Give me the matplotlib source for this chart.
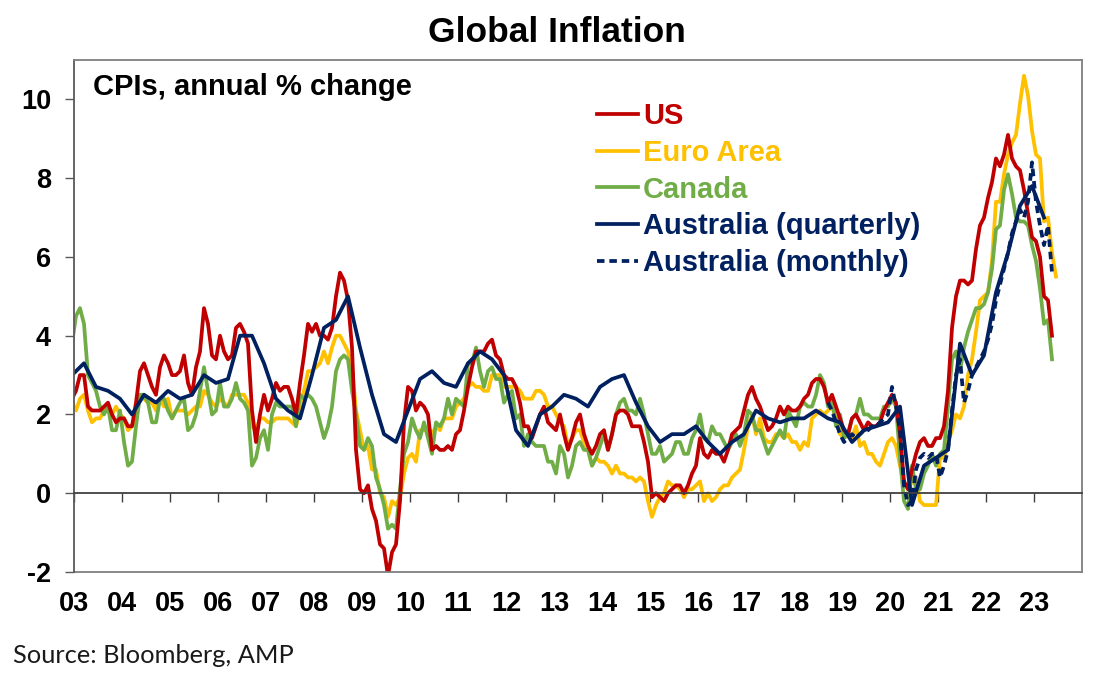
"""Global Inflation - CPIs, annual % change."""
import numpy as np
import matplotlib
matplotlib.use("Agg")
import matplotlib.pyplot as plt
from matplotlib.lines import Line2D

RED = "#C00000"
YELLOW = "#FFC000"
GREEN = "#70AD47"
NAVY = "#002060"
FRAME = "#7f7f7f"

# monthly annual % change, Dec 2002 .. latest month
us = [2.4,
      2.6, 3.0, 3.0, 2.2, 2.1, 2.1, 2.1, 2.2, 2.3, 2.0, 1.8, 1.9,
      1.9, 1.7, 1.7, 2.3, 3.1, 3.3, 3.0, 2.7, 2.5, 3.2, 3.5, 3.3,
      3.0, 3.0, 3.1, 3.5, 2.8, 2.5, 3.2, 3.6, 4.7, 4.3, 3.5, 3.4,
      4.0, 3.6, 3.4, 3.5, 4.2, 4.3, 4.1, 3.8, 2.1, 1.3, 2.0, 2.5,
      2.1, 2.4, 2.8, 2.6, 2.7, 2.7, 2.4, 2.0, 2.8, 3.5, 4.3, 4.1,
      4.3, 4.0, 4.0, 3.9, 4.2, 5.0, 5.6, 5.4, 4.9, 3.7, 1.1, 0.1,
      0.0, 0.2, -0.4, -0.7, -1.3, -1.4, -2.1, -1.5, -1.3, -0.2, 1.8, 2.7,
      2.6, 2.1, 2.3, 2.2, 2.0, 1.1, 1.2, 1.1, 1.1, 1.2, 1.1, 1.5,
      1.6, 2.1, 2.7, 3.2, 3.6, 3.6, 3.6, 3.8, 3.9, 3.5, 3.4, 3.0,
      2.9, 2.9, 2.7, 2.3, 1.7, 1.7, 1.4, 1.7, 2.0, 2.2, 1.8, 1.7,
      1.6, 2.0, 1.5, 1.1, 1.4, 1.8, 2.0, 1.5, 1.2, 1.0, 1.2, 1.5,
      1.6, 1.1, 1.5, 2.0, 2.1, 2.1, 2.0, 1.7, 1.7, 1.7, 1.3, 0.8,
      -0.1, 0.0, -0.1, -0.2, 0.0, 0.1, 0.2, 0.2, 0.0, 0.2, 0.5, 0.7,
      1.4, 1.0, 0.9, 1.1, 1.0, 1.0, 0.8, 1.1, 1.5, 1.6, 1.7, 2.1,
      2.5, 2.7, 2.4, 2.2, 1.9, 1.6, 1.7, 1.9, 2.2, 2.0, 2.2, 2.1,
      2.1, 2.2, 2.4, 2.5, 2.8, 2.9, 2.9, 2.7, 2.3, 2.5, 2.2, 1.9,
      1.6, 1.5, 1.9, 2.0, 1.8, 1.6, 1.8, 1.7, 1.7, 1.8, 2.1, 2.3,
      2.5, 2.3, 1.5, 0.3, 0.1, 0.6, 1.0, 1.3, 1.4, 1.2, 1.2, 1.4,
      1.4, 1.7, 2.6, 4.2, 5.0, 5.4, 5.4, 5.3, 5.4, 6.2, 6.8, 7.0,
      7.5, 7.9, 8.5, 8.3, 8.6, 9.1, 8.5, 8.3, 8.2, 7.7, 7.1, 6.5,
      6.4, 6.0, 5.0, 4.9, 4.0]

euro = [2.3,
        2.1, 2.4, 2.5, 2.1, 1.8, 1.9, 1.9, 2.1, 2.2, 2.0, 2.2, 2.0,
        1.9, 1.6, 1.7, 2.0, 2.5, 2.4, 2.3, 2.3, 2.1, 2.4, 2.2, 2.4,
        1.9, 2.1, 2.1, 2.1, 2.0, 2.1, 2.2, 2.2, 2.6, 2.5, 2.3, 2.2,
        2.4, 2.3, 2.2, 2.5, 2.5, 2.5, 2.5, 2.3, 1.7, 1.6, 1.9, 1.9,
        1.8, 1.8, 1.9, 1.9, 1.9, 1.9, 1.8, 1.7, 2.1, 2.6, 3.1, 3.1,
        3.2, 3.3, 3.6, 3.3, 3.7, 4.0, 4.0, 3.8, 3.6, 3.2, 2.1, 1.6,
        1.1, 1.2, 0.6, 0.6, 0.0, -0.1, -0.6, -0.2, -0.3, -0.1, 0.5, 0.9,
        1.0, 0.8, 1.6, 1.6, 1.7, 1.5, 1.7, 1.6, 1.9, 1.9, 1.9, 2.2,
        2.3, 2.4, 2.7, 2.8, 2.7, 2.7, 2.6, 2.6, 3.0, 3.0, 3.0, 2.7,
        2.7, 2.7, 2.7, 2.6, 2.4, 2.4, 2.4, 2.6, 2.6, 2.5, 2.2, 2.2,
        2.0, 1.8, 1.7, 1.2, 1.4, 1.6, 1.6, 1.3, 1.1, 0.7, 0.9, 0.8,
        0.8, 0.7, 0.5, 0.7, 0.5, 0.5, 0.4, 0.4, 0.3, 0.4, 0.3, -0.2,
        -0.6, -0.3, -0.1, 0.0, 0.3, 0.2, 0.2, 0.1, -0.1, 0.1, 0.1, 0.2,
        0.3, -0.2, 0.0, -0.2, -0.1, 0.1, 0.2, 0.2, 0.4, 0.5, 0.6, 1.1,
        1.7, 2.0, 1.5, 1.9, 1.4, 1.3, 1.3, 1.5, 1.5, 1.4, 1.5, 1.3,
        1.3, 1.1, 1.3, 1.2, 1.9, 2.0, 2.1, 2.0, 2.1, 2.2, 1.9, 1.5,
        1.4, 1.5, 1.4, 1.7, 1.2, 1.3, 1.0, 1.0, 0.8, 0.7, 1.0, 1.3,
        1.4, 1.2, 0.7, 0.3, 0.1, 0.3, 0.4, -0.2, -0.3, -0.3, -0.3, -0.3,
        0.9, 0.9, 1.3, 1.6, 2.0, 1.9, 2.2, 3.0, 3.4, 4.1, 4.9, 5.0,
        5.1, 5.9, 7.4, 7.4, 8.1, 8.6, 8.9, 9.1, 9.9, 10.6, 10.1, 9.2,
        8.6, 8.5, 6.9, 7.0, 6.1, 5.5]

canada = [3.8,
          4.5, 4.7, 4.3, 3.0, 2.8, 2.6, 2.2, 2.0, 2.2, 1.6, 1.6, 2.1,
          1.3, 0.7, 0.8, 1.7, 2.5, 2.5, 2.3, 1.8, 1.8, 2.4, 2.4, 2.1,
          1.9, 2.1, 2.3, 2.4, 1.6, 1.7, 2.0, 2.6, 3.2, 2.6, 2.0, 2.1,
          2.8, 2.2, 2.2, 2.4, 2.8, 2.4, 2.3, 2.1, 0.7, 0.9, 1.4, 1.6,
          1.1, 2.0, 2.3, 2.2, 2.2, 2.2, 2.2, 1.7, 2.5, 2.4, 2.5, 2.4,
          2.2, 1.8, 1.4, 1.7, 2.2, 3.1, 3.4, 3.5, 3.4, 2.6, 2.0, 1.2,
          1.1, 1.4, 1.2, 0.4, 0.1, -0.3, -0.9, -0.8, -0.9, 0.1, 1.0, 1.3,
          1.9, 1.6, 1.4, 1.8, 1.4, 1.0, 1.8, 1.7, 1.9, 2.4, 2.0, 2.4,
          2.3, 2.2, 3.3, 3.3, 3.7, 3.1, 2.7, 3.1, 3.2, 2.9, 2.9, 2.3,
          2.5, 2.6, 1.9, 2.0, 1.2, 1.5, 1.3, 1.2, 1.2, 1.2, 0.8, 0.8,
          0.5, 1.2, 1.0, 0.4, 0.7, 1.2, 1.3, 1.1, 1.1, 0.7, 0.9, 1.2,
          1.5, 1.1, 1.5, 2.0, 2.3, 2.4, 2.1, 2.1, 2.0, 2.4, 2.0, 1.5,
          1.0, 1.0, 1.2, 0.8, 0.9, 1.0, 1.3, 1.3, 1.0, 1.0, 1.4, 1.6,
          2.0, 1.4, 1.3, 1.7, 1.5, 1.5, 1.3, 1.1, 1.3, 1.5, 1.2, 1.5,
          2.1, 2.0, 1.6, 1.6, 1.3, 1.0, 1.2, 1.4, 1.6, 1.4, 2.1, 1.9,
          1.7, 2.2, 2.3, 2.2, 2.2, 2.5, 3.0, 2.8, 2.2, 2.4, 1.7, 2.0,
          1.4, 1.5, 1.9, 2.0, 2.4, 2.0, 2.0, 1.9, 1.9, 1.9, 2.2, 2.2,
          2.4, 2.2, 0.9, -0.2, -0.4, 0.7, 0.1, 0.1, 0.5, 0.7, 1.0, 0.7,
          1.0, 1.1, 2.2, 3.4, 3.6, 3.1, 3.7, 4.1, 4.4, 4.7, 4.7, 4.8,
          5.1, 5.7, 6.7, 6.8, 7.7, 8.1, 7.6, 7.0, 6.9, 6.9, 6.8, 6.3,
          5.9, 5.2, 4.3, 4.4, 3.4]

# quarterly, Dec 2002 .. Mar 2023 (quarter-end months)
aus_q = [3.0,
         3.3, 2.7, 2.6, 2.4,
         2.0, 2.5, 2.3, 2.6,
         2.4, 2.5, 3.0, 2.8,
         2.9, 4.0, 4.0, 3.3,
         2.4, 2.1, 1.9, 3.0,
         4.2, 4.4, 5.0, 3.7,
         2.5, 1.5, 1.3, 2.1,
         2.9, 3.1, 2.8, 2.7,
         3.3, 3.6, 3.4, 3.0,
         1.6, 1.2, 2.0, 2.2,
         2.5, 2.4, 2.2, 2.7,
         2.9, 3.0, 2.3, 1.7,
         1.3, 1.5, 1.5, 1.7,
         1.3, 1.0, 1.3, 1.5,
         2.1, 1.9, 1.8, 1.9,
         1.9, 2.1, 1.9, 1.8,
         1.3, 1.6, 1.7, 1.8,
         2.2, -0.3, 0.7, 0.9,
         1.1, 3.8, 3.0, 3.5,
         5.1, 6.1, 7.3, 7.8,
         7.0]

# monthly indicator, Sep 2018 .. May 2023
aus_m = [2.3, 2.1, 1.8, 1.5,
         1.3, 1.4, 1.5, 1.4, 1.5, 1.6, 1.6, 1.7, 1.7, 1.8, 1.9, 2.0,
         2.7, 2.2, 1.6, 0.2, -0.3, -0.2, 0.6, 0.9, 1.0, 0.9, 1.0, 1.0,
         0.4, 0.7, 1.1, 2.1, 3.0, 3.4, 2.3, 2.6, 3.0, 3.2, 3.4, 3.6,
         3.9, 4.3, 4.9, 5.3, 5.7, 6.1, 6.6, 6.9, 7.2, 7.0, 7.4, 8.4,
         7.4, 6.8, 6.3, 6.8, 5.6]

years = list(range(2003, 2024))
year_labels = [f"{y % 100:02d}" for y in years]


def month_x(first_month, n, step=1):
    # first_month counted from Jan 2003 = 0, points drawn mid-month
    return 2003 + (first_month + step * np.arange(n) + 0.5) / 12


plt.rcParams["font.family"] = ["Liberation Sans", "DejaVu Sans"]
plt.rcParams["axes.unicode_minus"] = False

fig = plt.figure(figsize=(11.05, 6.91), dpi=100)
ax = fig.add_axes([74 / 1105, 1 - 572 / 691, 1008 / 1105, 512 / 691])

lw = 2.7
ax.plot(month_x(-1, len(euro)), euro, color=YELLOW, lw=lw)
ax.plot(month_x(-1, len(canada)), canada, color=GREEN, lw=lw)
ax.plot(month_x(-1, len(us)), us, color=RED, lw=lw)
ax.plot(month_x(-1, len(aus_q), 3), aus_q, color=NAVY, lw=lw)
ax.plot(month_x(188, len(aus_m)), aus_m, color=NAVY, lw=lw, dashes=(2.0, 1.3))

ax.set_xlim(2003, 2024)
ax.set_ylim(-2, 11)
ax.set_yticks(range(-2, 11, 2))
ax.set_xticks(years)
ax.set_xticklabels(year_labels)

for s in ["top", "right", "left"]:
    ax.spines[s].set_color(FRAME)
    ax.spines[s].set_linewidth(1.3)
ax.spines["left"].set_color("#595959")
ax.spines["bottom"].set_position(("data", 0))
ax.spines["bottom"].set_color("#404040")
ax.spines["bottom"].set_linewidth(1.3)
ax.plot([0, 1], [0, 0], transform=ax.transAxes, color=FRAME, lw=1.3, clip_on=False)

ax.tick_params(axis="y", direction="out", length=6.5, width=1, color="#595959",
               pad=10, labelsize=19.5)
ax.tick_params(axis="x", direction="out", length=6.5, width=1, color="#404040",
               pad=64, labelsize=19.5)
for lab in ax.get_xticklabels() + ax.get_yticklabels():
    lab.set_fontweight("bold")

ax.text(19 / 1008, 1 - 35 / 512, "CPIs, annual % change", transform=ax.transAxes,
        fontsize=21, fontweight="bold", va="baseline", ha="left")

handles = [Line2D([], [], color=RED, lw=lw),
           Line2D([], [], color=YELLOW, lw=lw),
           Line2D([], [], color=GREEN, lw=lw),
           Line2D([], [], color=NAVY, lw=lw),
           Line2D([], [], color=NAVY, lw=lw, dashes=(2.0, 1.3))]
names = ["US", "Euro Area", "Canada", "Australia (quarterly)", "Australia (monthly)"]
leg = ax.legend(handles, names, loc="upper left", bbox_to_anchor=(523 / 1008, 1 - 42 / 512),
                frameon=False, borderpad=0, borderaxespad=0, handlelength=1.4,
                handletextpad=0.18, labelspacing=0.30,
                prop={"size": 21, "weight": "bold"},
                labelcolor=[RED, YELLOW, GREEN, NAVY, NAVY])

fig.text(557 / 1105, 1 - 42 / 691, "Global Inflation", fontsize=25.5, fontweight="bold",
         ha="center", va="baseline")
fig.text(13 / 1105, 1 - 663 / 691, "Source: Bloomberg, AMP", fontsize=18.3,
         family=["Lato", "DejaVu Sans"], ha="left", va="baseline", color="#1a1a1a")

fig.savefig("out.png", dpi=100)
